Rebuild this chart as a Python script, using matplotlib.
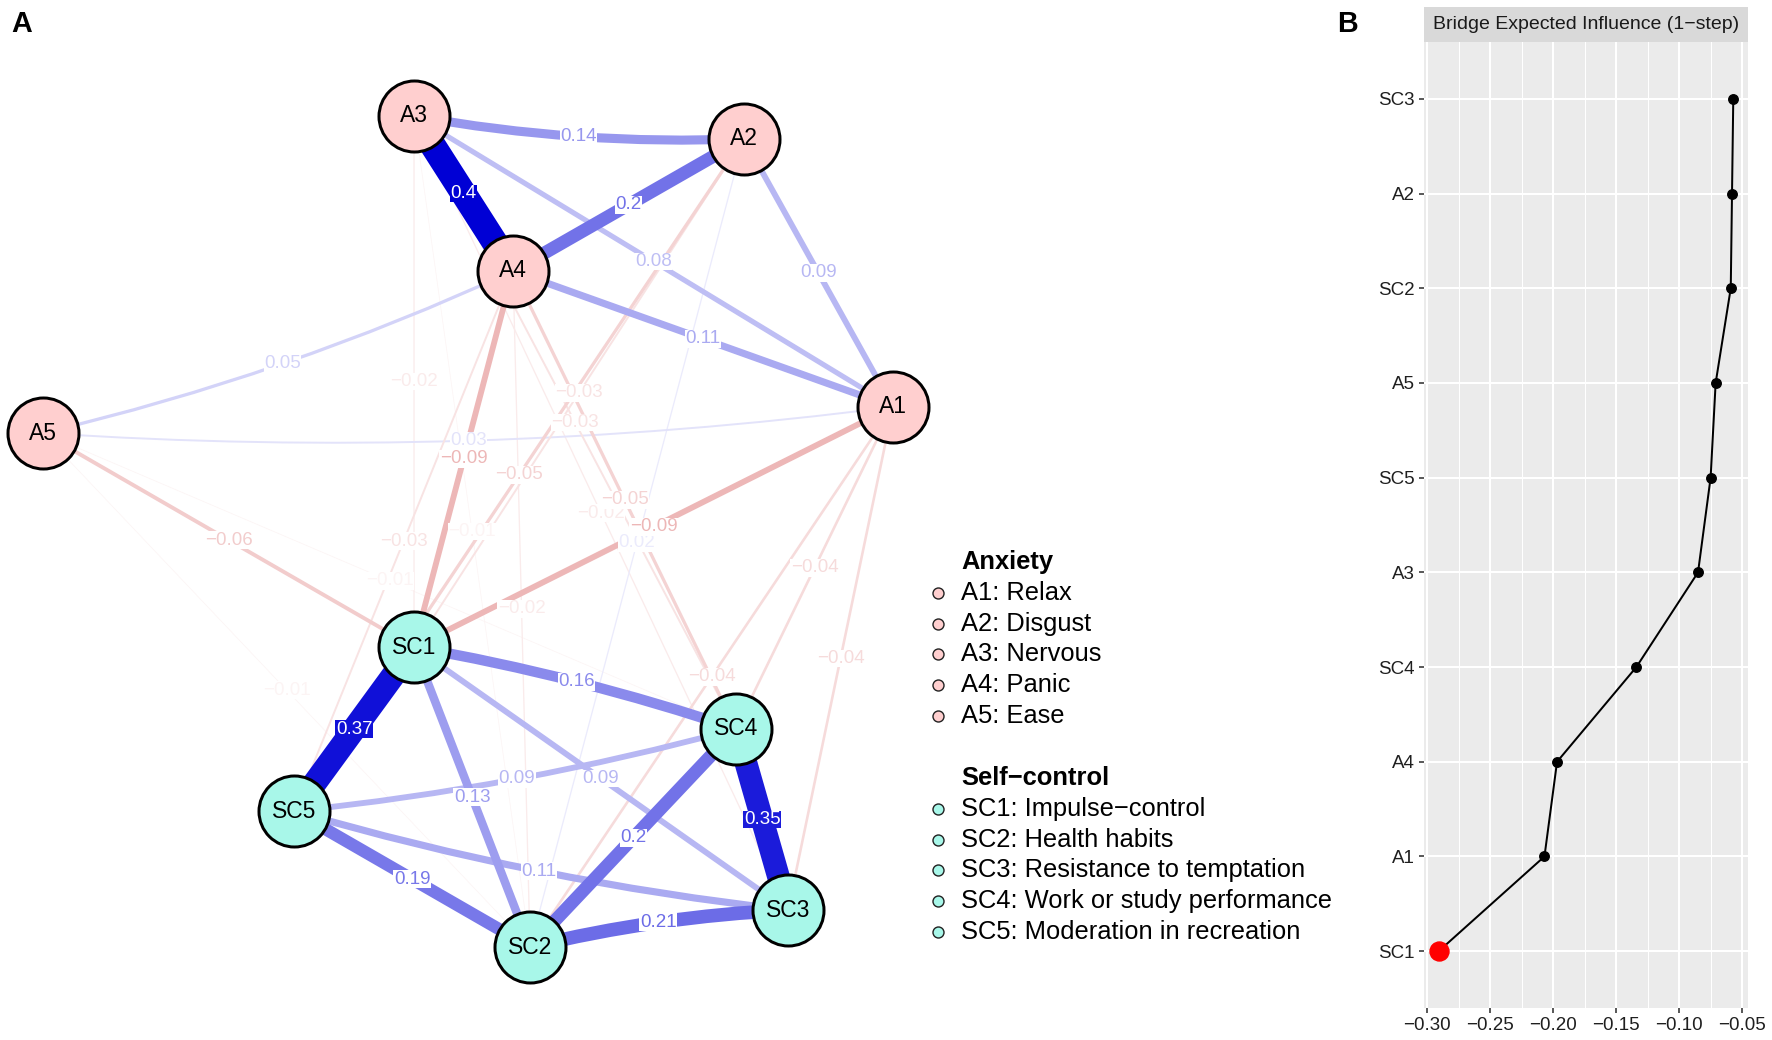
import numpy as np
import matplotlib
matplotlib.use("Agg")
import matplotlib.pyplot as plt
from matplotlib.patches import Rectangle, PathPatch
from matplotlib.path import Path

plt.rcParams['font.family'] = ['Liberation Sans', 'DejaVu Sans']

# ------------------------------------------------------------------ data
anxiety_nodes = ["A1", "A2", "A3", "A4", "A5"]
anxiety_labels = ["A1: Relax", "A2: Disgust", "A3: Nervous", "A4: Panic", "A5: Ease"]
selfcontrol_nodes = ["SC1", "SC2", "SC3", "SC4", "SC5"]
selfcontrol_labels = ["SC1: Impulse\u2212control", "SC2: Health habits",
                      "SC3: Resistance to temptation", "SC4: Work or study performance",
                      "SC5: Moderation in recreation"]
group_names = ["Anxiety", "Self\u2212control"]

# spring-layout coordinates of the nodes (scaled to [-1, 1])
layout_x = {"A1": 1.000, "A2": 0.649, "A3": -0.127, "A4": 0.106, "A5": -1.000,
            "SC1": -0.127, "SC2": 0.146, "SC3": 0.753, "SC4": 0.631, "SC5": -0.409}
layout_y = {"A1": 0.300, "A2": 0.945, "A3": 1.000, "A4": 0.627, "A5": 0.237,
            "SC1": -0.278, "SC2": -1.000, "SC3": -0.911, "SC4": -0.475, "SC5": -0.673}

edge_from = ["A3", "A3", "A4", "A3", "A2", "A4", "A5", "A5",
             "SC1", "SC1", "SC1", "SC1", "SC5", "SC5", "SC5", "SC4", "SC4", "SC2",
             "A1", "A4", "A5", "A3", "A2", "A3", "A2", "A4", "A3", "A3", "A4",
             "A5", "A5", "A4", "A1", "A1", "A1", "A2"]
edge_to = ["A4", "A2", "A2", "A1", "A1", "A1", "A4", "A1",
           "SC5", "SC4", "SC2", "SC3", "SC4", "SC2", "SC3", "SC3", "SC2", "SC3",
           "SC1", "SC1", "SC1", "SC1", "SC1", "SC4", "SC5", "SC4", "SC3", "SC2", "SC5",
           "SC4", "SC2", "SC2", "SC4", "SC3", "SC2", "SC2"]
edge_weight = [0.40, 0.14, 0.20, 0.08, 0.09, 0.11, 0.05, 0.03,
               0.37, 0.16, 0.13, 0.09, 0.09, 0.19, 0.11, 0.35, 0.20, 0.21,
               -0.09, -0.09, -0.06, -0.02, -0.03, -0.03, -0.05, -0.05, -0.02, -0.01, -0.03,
               -0.01, -0.01, -0.02, -0.04, -0.04, -0.04, 0.02]

# Bridge expected influence (1-step), bottom to top
bei_nodes = ["SC1", "A1", "A4", "SC4", "A3", "SC5", "A5", "SC2", "A2", "SC3"]
bei_values = [-0.291, -0.207, -0.197, -0.134, -0.085, -0.075, -0.071, -0.059, -0.058, -0.057]
bei_ticks = [-0.30, -0.25, -0.20, -0.15, -0.10, -0.05]
bei_ticklabels = ["\u22120.30", "\u22120.25", "\u22120.20", "\u22120.15", "\u22120.10", "\u22120.05"]
strip_title = "Bridge Expected Influence (1\u2212step)"

# ------------------------------------------------------------------ figure
W, H = 1772, 1040
DPI = 100
PX = 72.0 / DPI  # points per pixel
fig = plt.figure(figsize=(W / DPI, H / DPI), dpi=DPI)
fig.patch.set_facecolor("white")

# overlay axes in pixel units (legend, panel letters)
ov = fig.add_axes([0, 0, 1, 1])
ov.set_xlim(0, W)
ov.set_ylim(H, 0)
ov.axis("off")

# ------------------------------------------------------------------ panel A: network
net_left, net_right, net_top, net_bottom = 43, 893, 116, 947
axn = fig.add_axes([net_left / W, 1 - net_bottom / H,
                    (net_right - net_left) / W, (net_bottom - net_top) / H])
axn.set_xlim(-1, 1)
axn.set_ylim(-1, 1)
axn.axis("off")

pink = "#FFCFCF"
cyan = "#A8F7E9"
pos_base = np.array([0, 0, 213]) / 255.0
neg_base = np.array([191, 0, 0]) / 255.0
wmax = max(abs(w) for w in edge_weight)


def edge_color(w):
    a = min(1.0, (abs(w) / wmax) ** 0.85)
    base = pos_base if w > 0 else neg_base
    return tuple(1 - a * (1 - base))


bend = {("A5", "A1"): -0.05, ("A5", "A4"): -0.03, ("A3", "A2"): -0.022,
        ("SC1", "SC4"): 0.015, ("SC2", "SC3"): 0.015, ("SC5", "SC3"): -0.026,
        ("SC5", "SC4"): -0.022}


def fmt(w):
    s = ("%.2f" % abs(w)).rstrip("0").rstrip(".")
    return ("\u2212" if w < 0 else "") + s


order = np.argsort([abs(w) for w in edge_weight], kind="stable")
label_items = []
for k, idx in enumerate(order):
    a, b, w = edge_from[idx], edge_to[idx], edge_weight[idx]
    p0 = np.array([layout_x[a], layout_y[a]])
    p1 = np.array([layout_x[b], layout_y[b]])
    v = p1 - p0
    n = np.array([-v[1], v[0]]) / np.hypot(*v)
    bb = bend.get((a, b), 0.0)
    mid = (p0 + p1) / 2
    ctrl = mid + 2 * bb * n
    col = edge_color(w)
    lw = max(0.7, 65 * abs(w)) * PX
    path = Path([p0, ctrl, p1], [Path.MOVETO, Path.CURVE3, Path.CURVE3])
    axn.add_patch(PathPatch(path, fill=False, edgecolor=col, lw=lw,
                            capstyle="butt", zorder=1 + k * 0.01, clip_on=False))
    lab_pt = mid + bb * n
    label_items.append((lab_pt, w, col, k))

for lab_pt, w, col, k in label_items:
    if abs(w) >= 0.35:
        axn.text(lab_pt[0], lab_pt[1], fmt(w), color="white", fontsize=13.5,
                 ha="center", va="center", zorder=3 + k * 0.01, clip_on=False,
                 bbox=dict(boxstyle="square,pad=0.02", fc=col, ec="none"))
    else:
        axn.text(lab_pt[0], lab_pt[1], fmt(w), color=col, fontsize=13.5,
                 ha="center", va="center", zorder=3 + k * 0.01, clip_on=False,
                 bbox=dict(boxstyle="square,pad=0.02", fc="white", ec="none"))

node_d = 71 * PX
for nodes, colr in ((anxiety_nodes, pink), (selfcontrol_nodes, cyan)):
    xs = [layout_x[nm] for nm in nodes]
    ys = [layout_y[nm] for nm in nodes]
    axn.scatter(xs, ys, s=node_d ** 2, c=colr, edgecolors="black",
                linewidths=3 * PX, zorder=10, clip_on=False)
    for nm in nodes:
        axn.text(layout_x[nm], layout_y[nm], nm, fontsize=16.5, ha="center",
                 va="center", zorder=11, color="black")

# legend
leg_x_marker, leg_x_text = 938, 961
row_h = 30.8
groups = [(group_names[0], anxiety_labels, pink, 562),
          (group_names[1], selfcontrol_labels, cyan, 778)]
for title, labels, colr, y0 in groups:
    ov.text(leg_x_text, y0, title, fontsize=18.4, fontweight="bold",
            ha="left", va="center")
    for i, lab in enumerate(labels):
        yy = y0 + (i + 1) * row_h
        ov.plot([leg_x_marker], [yy], marker="o", ms=11 * PX,
                mfc=colr, mec="#222222", mew=1.4 * PX, ls="none")
        ov.text(leg_x_text, yy, lab, fontsize=18.4, ha="left", va="center")

ov.text(22, 24, "A", fontsize=20.7, fontweight="bold", ha="center", va="center")
ov.text(1347, 24, "B", fontsize=20.7, fontweight="bold", ha="center", va="center")

# ------------------------------------------------------------------ panel B
pl, pr, pt, pb = 1424, 1748, 42, 1008
axb = fig.add_axes([pl / W, 1 - pb / H, (pr - pl) / W, (pb - pt) / H])
axb.set_facecolor("#EBEBEB")
for s in axb.spines.values():
    s.set_visible(False)
ypos = np.arange(len(bei_nodes))
vmin, vmax = min(bei_values), max(bei_values)
rng = vmax - vmin
axb.set_xlim(vmin - 0.05 * rng, vmax + 0.05 * rng)
axb.set_ylim(-0.6, len(bei_nodes) - 1 + 0.6)

axb.set_xticks(bei_ticks)
axb.set_xticklabels(bei_ticklabels)
minor = [(bei_ticks[i] + bei_ticks[i + 1]) / 2 for i in range(len(bei_ticks) - 1)]
axb.set_xticks(minor, minor=True)
axb.set_yticks(ypos)
axb.set_yticklabels(bei_nodes)
axb.grid(which="major", color="white", lw=2 * PX)
axb.grid(which="minor", axis="x", color="white", lw=1 * PX)
axb.set_axisbelow(True)
axb.tick_params(which="major", length=5 * PX, width=1.6 * PX, color="#333333",
                labelsize=13.5, labelcolor="#1F1F1F", pad=4 * PX)
axb.tick_params(which="minor", length=0)

axb.plot(bei_values, ypos, color="black", lw=2 * PX, zorder=3)
axb.plot(bei_values[1:], ypos[1:], ls="none", marker="o", ms=9.5 * PX,
         color="black", zorder=4)
axb.plot(bei_values[:1], ypos[:1], ls="none", marker="o", ms=19 * PX,
         color="#FF0000", zorder=5)

strip_h = 35 / (pb - pt)
axb.add_patch(Rectangle((0, 1), 1, strip_h, transform=axb.transAxes,
                        fc="#D9D9D9", ec="none", clip_on=False))
axb.text(0.5, 1 + strip_h / 2, strip_title, transform=axb.transAxes,
         fontsize=14, color="#1A1A1A", ha="center", va="center")

fig.savefig("out.png", dpi=DPI, facecolor="white")
